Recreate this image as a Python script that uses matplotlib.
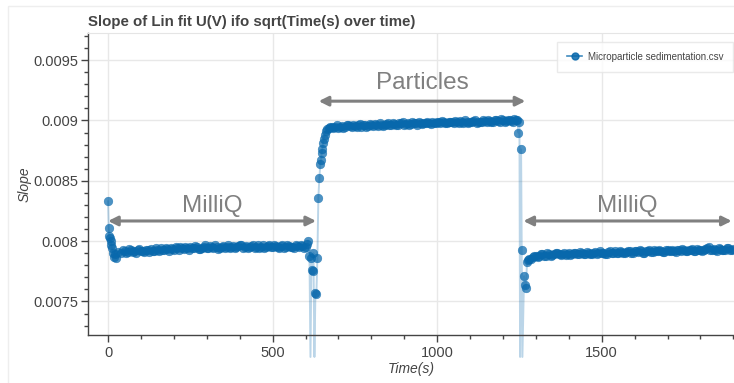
import matplotlib
matplotlib.use("Agg")
import matplotlib.pyplot as plt
from matplotlib.lines import Line2D
from matplotlib.patches import Rectangle
from matplotlib.ticker import MultipleLocator, FuncFormatter
import numpy as np

# ---------------- data ----------------
time_milliq1 = [0, 2, 4, 6, 8, 10, 12, 15, 18, 20, 25, 30,
                40, 50, 60, 70, 80, 90, 100, 110, 120, 130, 140, 150, 160, 170, 180, 190,
                200, 210, 220, 230, 240, 250, 260, 270, 280, 290, 300, 310, 320, 330, 340,
                350, 360, 370, 380, 390, 400, 410, 420, 430, 440, 450, 460, 470, 480, 490,
                500, 510, 520, 530, 540, 550, 560, 570, 580, 590, 600, 605, 608]
slope_milliq1 = [0.00833, 0.00811, 0.00804, 0.00803, 0.00800, 0.00797, 0.00794, 0.00790, 0.00787,
                 0.00789, 0.00786, 0.00791,
                 0.007905, 0.007920, 0.007910, 0.007925, 0.007915, 0.007930, 0.007920, 0.007910,
                 0.007925, 0.007935, 0.007915, 0.007930, 0.007940, 0.007925, 0.007935, 0.007945,
                 0.007930, 0.007940, 0.007950, 0.007935, 0.007945, 0.007955, 0.007940, 0.007950,
                 0.007935, 0.007955, 0.007945, 0.007960, 0.007940, 0.007955, 0.007945, 0.007960,
                 0.007950, 0.007940, 0.007960, 0.007950, 0.007965, 0.007945, 0.007960, 0.007950,
                 0.007965, 0.007955, 0.007945, 0.007965, 0.007955, 0.007970, 0.007950, 0.007960,
                 0.007945, 0.007965, 0.007955, 0.007960, 0.007950, 0.007965, 0.007955, 0.007960,
                 0.007950, 0.007975, 0.008005]
time_milliq1_mid = [45, 55, 65, 75, 85, 95, 105, 115, 125, 135, 145, 155, 165, 175, 185, 195,
                    205, 215, 225, 235, 245, 255, 265, 275, 285, 295, 305, 315, 325, 335, 345,
                    355, 365, 375, 385, 395, 405, 415, 425, 435, 445, 455, 465, 475, 485, 495,
                    505, 515, 525, 535, 545, 555, 565, 575, 585, 595]
slope_milliq1_mid = [0.007930, 0.007905, 0.007935, 0.007910, 0.007900, 0.007935, 0.007915,
                     0.007930, 0.007910, 0.007920, 0.007940, 0.007915, 0.007930, 0.007945,
                     0.007920, 0.007935, 0.007950, 0.007925, 0.007940, 0.007955, 0.007930,
                     0.007945, 0.007960, 0.007935, 0.007945, 0.007965, 0.007940, 0.007950,
                     0.007965, 0.007935, 0.007955, 0.007940, 0.007965, 0.007955, 0.007940,
                     0.007960, 0.007970, 0.007950, 0.007940, 0.007960, 0.007945, 0.007970,
                     0.007955, 0.007945, 0.007960, 0.007950, 0.007970, 0.007955, 0.007960,
                     0.007945, 0.007970, 0.007955, 0.007945, 0.007960, 0.007970, 0.007945]

time_switch1 = [612, 615, 618, 620, 622, 624, 627, 630, 633, 636, 639, 642, 645, 647, 649,
                651, 653, 655, 658, 661, 665]
slope_switch1 = [0.00788, 0.00704, 0.00786, 0.00776, 0.00775, 0.00790, 0.00704, 0.00757, 0.00756,
                 0.00786, 0.00836, 0.00852, 0.00864, 0.00867, 0.00873, 0.00876, 0.00881, 0.00885,
                 0.00888, 0.00891, 0.00893]

time_particles = [670, 680, 690, 700, 710, 720, 730, 740, 750, 760, 770, 780, 790, 800, 810, 820,
                  830, 840, 850, 860, 870, 880, 890, 900, 910, 920, 930, 940, 950, 960, 970, 980,
                  990, 1000, 1010, 1020, 1030, 1040, 1050, 1060, 1070, 1080, 1090, 1100, 1110,
                  1120, 1130, 1140, 1150, 1160, 1170, 1180, 1190, 1200, 1210, 1220, 1230, 1240,
                  1244]
slope_particles = [0.008935, 0.008945, 0.008950, 0.008940, 0.008955, 0.008950, 0.008960, 0.008945,
                   0.008955, 0.008960, 0.008950, 0.008965, 0.008955, 0.008960, 0.008970, 0.008955,
                   0.008965, 0.008960, 0.008975, 0.008960, 0.008970, 0.008965, 0.008975, 0.008965,
                   0.008980, 0.008970, 0.008975, 0.008965, 0.008980, 0.008975, 0.008985, 0.008970,
                   0.008980, 0.008990, 0.008975, 0.008985, 0.008980, 0.008990, 0.008975, 0.008985,
                   0.008995, 0.008980, 0.008990, 0.008985, 0.008995, 0.008980, 0.008990, 0.009000,
                   0.008985, 0.008995, 0.008990, 0.009005, 0.008990, 0.009000, 0.008995, 0.009005,
                   0.008990, 0.009000, 0.009000]
time_particles_mid = [675, 685, 695, 705, 715, 725, 735, 745, 755, 765, 775, 785, 795, 805, 815,
                      825, 835, 845, 855, 865, 875, 885, 895, 905, 915, 925, 935, 945, 955, 965,
                      975, 985, 995, 1005, 1015, 1025, 1035, 1045, 1055, 1065, 1075, 1085, 1095,
                      1105, 1115, 1125, 1135, 1145, 1155, 1165, 1175, 1185, 1195, 1205, 1215,
                      1225, 1235]
slope_particles_mid = [0.008950, 0.008935, 0.008960, 0.008950, 0.008940, 0.008965, 0.008955,
                       0.008965, 0.008945, 0.008970, 0.008960, 0.008950, 0.008970, 0.008955,
                       0.008965, 0.008975, 0.008955, 0.008970, 0.008965, 0.008980, 0.008960,
                       0.008975, 0.008985, 0.008970, 0.008965, 0.008985, 0.008975, 0.008990,
                       0.008970, 0.008980, 0.008975, 0.008990, 0.008975, 0.008985, 0.008995,
                       0.008975, 0.008990, 0.008985, 0.008995, 0.008980, 0.008990, 0.009000,
                       0.008980, 0.008990, 0.009005, 0.008990, 0.008985, 0.008995, 0.009005,
                       0.008985, 0.009000, 0.008995, 0.009010, 0.008990, 0.009000, 0.008995,
                       0.009010]

time_switch2 = [1247, 1250, 1252, 1255, 1257, 1259, 1264, 1267, 1270, 1273, 1276]
slope_switch2 = [0.00890, 0.00899, 0.00704, 0.00876, 0.00793, 0.00704, 0.00771, 0.00764, 0.00761,
                 0.00783, 0.00784]

time_milliq2 = [1280, 1290, 1300, 1310, 1320, 1330, 1340, 1350, 1360, 1370, 1380, 1390, 1400,
                1410, 1420, 1430, 1440, 1450, 1460, 1470, 1480, 1490, 1500, 1510, 1520, 1530,
                1540, 1550, 1560, 1570, 1580, 1590, 1600, 1610, 1620, 1630, 1640, 1650, 1660,
                1670, 1680, 1690, 1700, 1710, 1720, 1730, 1740, 1750, 1760, 1770, 1780, 1790,
                1800, 1810, 1820, 1830, 1840, 1850, 1860, 1870, 1880, 1890, 1900]
slope_milliq2 = [0.007850, 0.007865, 0.007875, 0.007880, 0.007890, 0.007880, 0.007895, 0.007885,
                 0.007900, 0.007890, 0.007895, 0.007885, 0.007900, 0.007890, 0.007905, 0.007895,
                 0.007900, 0.007890, 0.007905, 0.007895, 0.007910, 0.007900, 0.007905, 0.007895,
                 0.007910, 0.007900, 0.007915, 0.007905, 0.007910, 0.007900, 0.007915, 0.007905,
                 0.007920, 0.007910, 0.007915, 0.007905, 0.007920, 0.007910, 0.007925, 0.007915,
                 0.007920, 0.007910, 0.007925, 0.007915, 0.007920, 0.007930, 0.007915, 0.007925,
                 0.007920, 0.007930, 0.007920, 0.007935, 0.007925, 0.007930, 0.007945, 0.007925,
                 0.007935, 0.007920, 0.007935, 0.007925, 0.007940, 0.007930, 0.007935]
time_milliq2_mid = [1285, 1295, 1305, 1315, 1325, 1335, 1345, 1355, 1365, 1375, 1385, 1395,
                    1405, 1415, 1425, 1435, 1445, 1455, 1465, 1475, 1485, 1495, 1505, 1515,
                    1525, 1535, 1545, 1555, 1565, 1575, 1585, 1595, 1605, 1615, 1625, 1635,
                    1645, 1655, 1665, 1675, 1685, 1695, 1705, 1715, 1725, 1735, 1745, 1755,
                    1765, 1775, 1785, 1795, 1805, 1815, 1825, 1835, 1845, 1855, 1865, 1875,
                    1885, 1895]
slope_milliq2_mid = [0.007855, 0.007880, 0.007870, 0.007895, 0.007880, 0.007900, 0.007880,
                     0.007895, 0.007905, 0.007885, 0.007900, 0.007895, 0.007885, 0.007905,
                     0.007890, 0.007910, 0.007895, 0.007910, 0.007890, 0.007905, 0.007895,
                     0.007915, 0.007900, 0.007890, 0.007915, 0.007905, 0.007900, 0.007920,
                     0.007900, 0.007910, 0.007920, 0.007900, 0.007915, 0.007925, 0.007905,
                     0.007915, 0.007925, 0.007910, 0.007920, 0.007930, 0.007910, 0.007925,
                     0.007915, 0.007930, 0.007910, 0.007925, 0.007935, 0.007915, 0.007925,
                     0.007935, 0.007920, 0.007930, 0.007920, 0.007935, 0.007950, 0.007930,
                     0.007925, 0.007940, 0.007930, 0.007925, 0.007940, 0.007930]

series_label = "Microparticle sedimentation.csv"
title_text = "Slope of Lin fit U(V) ifo sqrt(Time(s) over time)"
x_label = "Time(s)"
y_label = "Slope"

# annotations: (label, start time, end time, arrow level, text level)
annotations = [
    ("MilliQ", 0, 632, 0.008167, 0.00829),
    ("Particles", 640, 1268, 0.00916, 0.00931),
    ("MilliQ", 1262, 1895, 0.008167, 0.00829),
]

# ---------------- plotting ----------------
plt.rcParams['font.family'] = ['Liberation Sans', 'DejaVu Sans']

time = np.array(time_milliq1 + time_milliq1_mid + time_switch1 + time_particles
                + time_particles_mid + time_switch2 + time_milliq2 + time_milliq2_mid, dtype=float)
slope = np.array(slope_milliq1 + slope_milliq1_mid + slope_switch1 + slope_particles
                 + slope_particles_mid + slope_switch2 + slope_milliq2 + slope_milliq2_mid)
order = np.argsort(time, kind='stable')
time, slope = time[order], slope[order]

W, H = 734, 383
fig = plt.figure(figsize=(W / 100, H / 100), dpi=100)
ax = fig.add_axes([88 / W, 1 - 335 / H, 646 / W, 302 / H])

xmin, xmax = -61, 1902
ymin, ymax = 0.007222, 0.009725

blue = '#0868ac'
line_blue = '#1f77b4'
ax.plot(time, slope, color=line_blue, alpha=0.3, lw=1.4, clip_on=False, zorder=2)
visible = slope > ymin
ax.plot(time[visible], slope[visible], ls='none', marker='o', ms=6.3,
        mfc=blue, mec=blue, mew=0.3, alpha=0.72, zorder=3)

ax.set_xlim(xmin, xmax)
ax.set_ylim(ymin, ymax)

ax.xaxis.set_major_locator(MultipleLocator(500))
ax.xaxis.set_minor_locator(MultipleLocator(100))
ax.yaxis.set_major_locator(MultipleLocator(0.0005))
ax.yaxis.set_minor_locator(MultipleLocator(0.0001))
ax.yaxis.set_major_formatter(FuncFormatter(lambda v, p: ('%.4f' % v).rstrip('0')))

axis_col = '#444444'
for s in ('left', 'bottom'):
    ax.spines[s].set_color(axis_col)
    ax.spines[s].set_linewidth(1.0)
ax.spines['top'].set_color('#e5e5e5')
ax.spines['right'].set_visible(False)

ax.tick_params(which='major', length=5, width=1, color=axis_col, labelcolor='#444444',
               labelsize=10.5, pad=2)
ax.tick_params(which='minor', length=3, width=1, color=axis_col)
ax.tick_params(axis='x', pad=3)

ax.grid(True, which='major', color='#e8e8e8', lw=1)
ax.set_axisbelow(True)

ax.set_xlabel(x_label, fontstyle='italic', fontsize=10, color='#444444', labelpad=1)
ax.set_ylabel(y_label, fontstyle='italic', fontsize=10, color='#444444', labelpad=1)

fig.text(88 / W, 1 - 22 / H, title_text, fontsize=10.8, fontweight='bold',
         color='#444444', ha='left', va='center')

gray = '#808080'
for label, t0, t1, ya, yt in annotations:
    ax.annotate('', xy=(t1, ya), xytext=(t0, ya),
                arrowprops=dict(arrowstyle='<|-|>', color=gray, lw=2.2,
                                mutation_scale=14, shrinkA=0, shrinkB=0), zorder=4)
    ax.text((t0 + t1) / 2, yt, label, fontsize=17.5, color=gray, ha='center', va='center', zorder=4)

handle = Line2D([], [], color=line_blue, lw=1.2, marker='o', ms=5, mfc=blue, mec=blue, alpha=0.85)
leg = ax.legend([handle], [series_label], loc='upper right', bbox_to_anchor=(0.999, 0.97),
                borderaxespad=0, fontsize=7, frameon=True, fancybox=False,
                edgecolor='#e5e5e5', handlelength=1.6, handletextpad=0.6,
                borderpad=1.0, labelcolor='#444444')
leg.get_frame().set_linewidth(1)

fig.patches.append(Rectangle((8 / W, -0.01), 1.0, 1 - 6 / H + 0.01, transform=fig.transFigure,
                             fill=False, edgecolor='#eeeeee', lw=1, zorder=0))

fig.savefig('out.png', dpi=100)
